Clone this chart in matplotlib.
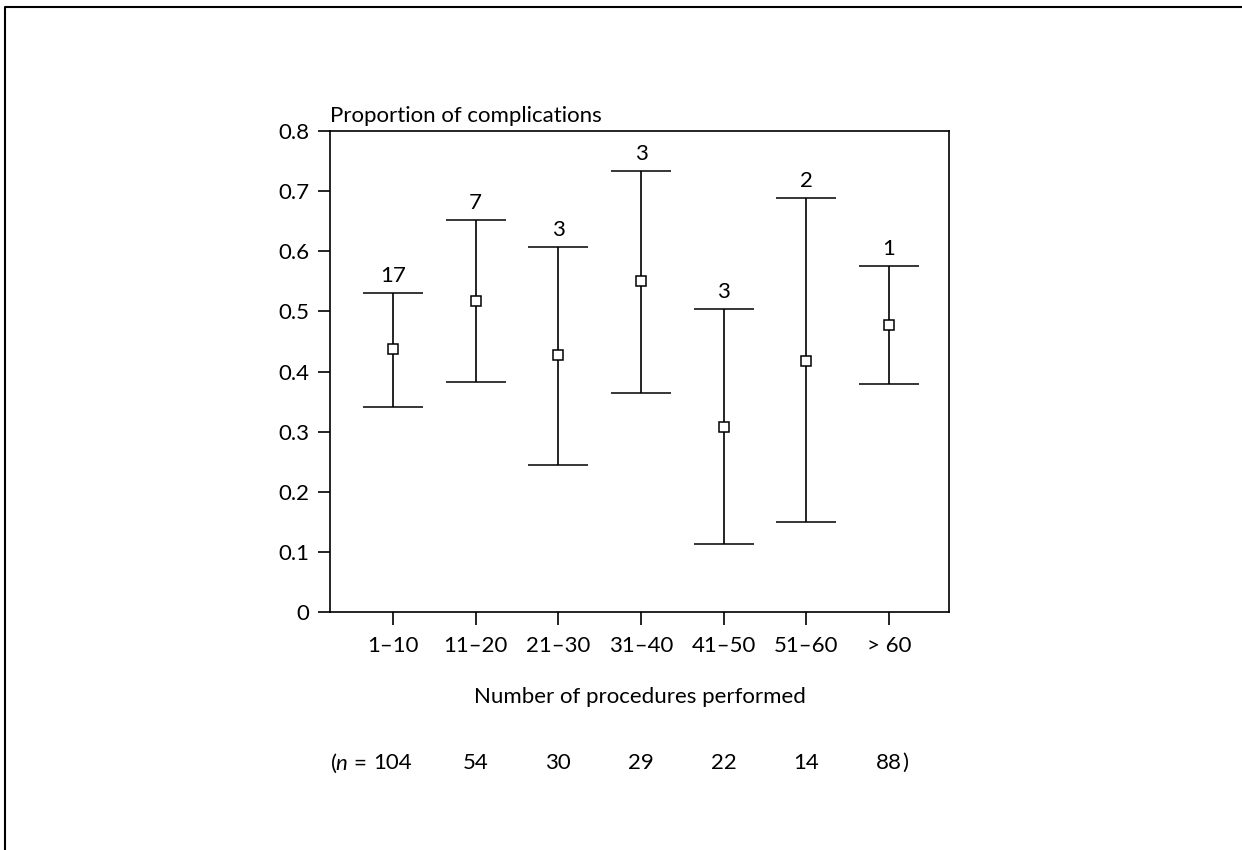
import numpy as np
import matplotlib.pyplot as plt
from matplotlib.lines import Line2D

plt.rcParams['font.family'] = ['Lato', 'DejaVu Sans']
plt.rcParams['mathtext.fontset'] = 'custom'
plt.rcParams['mathtext.rm'] = 'Lato'
plt.rcParams['mathtext.it'] = 'Lato:italic'

groups = ['1–10', '11–20', '21–30', '31–40', '41–50', '51–60', '> 60']
proportion = [0.437, 0.517, 0.427, 0.550, 0.308, 0.418, 0.477]
ci_low = [0.341, 0.383, 0.245, 0.364, 0.113, 0.150, 0.379]
ci_high = [0.531, 0.652, 0.607, 0.733, 0.504, 0.688, 0.576]
complications = [17, 7, 3, 3, 3, 2, 1]
n_patients = [104, 54, 30, 29, 22, 14, 88]

fs = 16
x = np.arange(1, len(groups) + 1)
p = np.array(proportion)
yerr = np.vstack([p - np.array(ci_low), np.array(ci_high) - p])

fig = plt.figure(figsize=(12.42, 8.5), dpi=100)
ax = fig.add_axes([330/1242, 1-612/850, (949-330)/1242, (612-131)/850])

ax.errorbar(x, p, yerr=yerr, fmt='s', color='black', ecolor='black',
            markersize=7.5, markerfacecolor='white', markeredgewidth=1.1,
            elinewidth=1.2, capsize=21.5, capthick=1.2, zorder=3)

for xi, hi, c in zip(x, ci_high, complications):
    ax.annotate(str(c), (xi, hi), xytext=(0, 5), textcoords='offset points',
                ha='center', va='bottom', fontsize=fs)

ax.set_xlim(0.238, 7.726)
ax.set_ylim(0, 0.8)
ax.set_yticks(np.arange(0, 0.81, 0.1))
ax.set_yticklabels(['0'] + [f'{v:.1f}' for v in np.arange(0.1, 0.81, 0.1)])
ax.set_xticks(x)
ax.set_xticklabels(groups)
ax.tick_params(axis='both', direction='out', length=9, width=1.2, labelsize=fs, color='black')
ax.tick_params(axis='y', pad=6)
ax.tick_params(axis='x', pad=8)
for s in ax.spines.values():
    s.set_linewidth(1.2)

ax.text(0, 1.01, 'Proportion of complications', transform=ax.transAxes,
        ha='left', va='bottom', fontsize=fs)
ax.text(0.5, -0.177, 'Number of procedures performed', transform=ax.transAxes,
        ha='center', va='center', fontsize=fs)

# sample sizes row below the axis title
y_n = 1 - 763/850
n_texts = []
for xi, n in zip(x, n_patients):
    xf = fig.transFigure.inverted().transform(ax.transData.transform((xi, 0)))[0]
    n_texts.append(fig.text(xf, y_n, str(n), ha='center', va='center', fontsize=fs))
fig.canvas.draw()
ax.annotate(r'($\it{n}$ =', xy=(0, 0.5), xycoords=n_texts[0], xytext=(-5, 0),
            textcoords='offset points', ha='right', va='center', fontsize=fs)
ax.annotate(')', xy=(1, 0.5), xycoords=n_texts[-1], xytext=(0.5, 0),
            textcoords='offset points', ha='left', va='center', fontsize=fs)

# frame around the figure panel
fig.add_artist(Line2D([5/1242, 5/1242, 1], [0, 1-7/850, 1-7/850],
                      transform=fig.transFigure, color='black', linewidth=1.5))

fig.savefig('out.png', dpi=100)
